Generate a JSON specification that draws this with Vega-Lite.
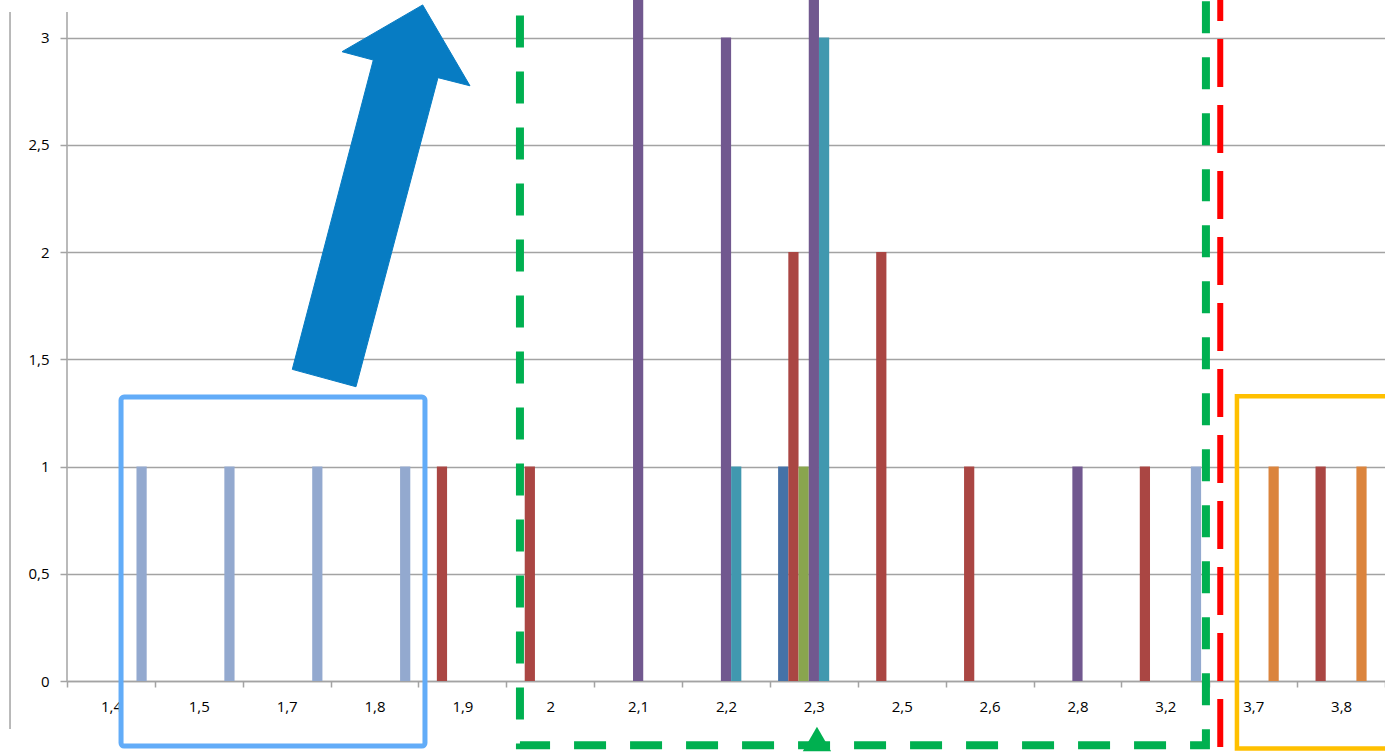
{
  "$schema": "https://vega.github.io/schema/vega-lite/v6.json",
  "width": 1318,
  "height": 681,
  "autosize": "none",
  "padding": {"left": 67, "top": 0, "right": 0, "bottom": 71},
  "background": "white",
  "config": {
    "view": {"stroke": null},
    "axis": {"labelFont": "Open Sans", "labelFontSize": 15, "labelColor": "#000000"}
  },
  "datasets": {
    "bars": [
      {"cat": "1,4", "s": "s7", "v": 1},
      {"cat": "1,5", "s": "s7", "v": 1},
      {"cat": "1,7", "s": "s7", "v": 1},
      {"cat": "1,8", "s": "s7", "v": 1},
      {"cat": "1,9", "s": "s2", "v": 1},
      {"cat": "2", "s": "s2", "v": 1},
      {"cat": "2,1", "s": "s4", "v": 4},
      {"cat": "2,2", "s": "s4", "v": 3},
      {"cat": "2,2", "s": "s5", "v": 1},
      {"cat": "2,3", "s": "s1", "v": 1},
      {"cat": "2,3", "s": "s2", "v": 2},
      {"cat": "2,3", "s": "s3", "v": 1},
      {"cat": "2,3", "s": "s4", "v": 4},
      {"cat": "2,3", "s": "s5", "v": 3},
      {"cat": "2,5", "s": "s2", "v": 2},
      {"cat": "2,6", "s": "s2", "v": 1},
      {"cat": "2,8", "s": "s4", "v": 1},
      {"cat": "3,2", "s": "s2", "v": 1},
      {"cat": "3,2", "s": "s7", "v": 1},
      {"cat": "3,7", "s": "s6", "v": 1},
      {"cat": "3,8", "s": "s2", "v": 1},
      {"cat": "3,8", "s": "s6", "v": 1}
    ],
    "frame": [
      {"x": 0, "y": 3.119, "y2": 0},
      {"x": -0.6485, "y": 3.119, "y2": -0.224}
    ],
    "blueBox": [{"x": 0.615, "x2": 4.074, "y": 1.324, "y2": -0.303}],
    "greenBox": [{"x": 5.155, "x2": 12.962, "y": 3.3, "y2": -0.3}],
    "orangeBox": [{"x": 13.315, "x2": 16, "y": 1.327, "y2": -0.315}],
    "redLine": [{"x": 13.125, "y": -0.3078, "y2": 3.3}],
    "tri": [{"x": 8.535, "y": -0.27}],
    "arrow": [
      {"i": 1, "x": 2.564, "y": 1.453},
      {"i": 2, "x": 3.289, "y": 1.372},
      {"i": 3, "x": 4.222, "y": 2.813},
      {"i": 4, "x": 4.586, "y": 2.775},
      {"i": 5, "x": 4.048, "y": 3.152},
      {"i": 6, "x": 3.130, "y": 2.934},
      {"i": 7, "x": 3.486, "y": 2.895},
      {"i": 8, "x": 2.564, "y": 1.453}
    ]
  },
  "layer": [
    {
      "data": {"name": "bars"},
      "mark": {"type": "bar", "clip": true},
      "encoding": {
        "x": {
          "field": "cat", "type": "nominal", "sort": null,
          "scale": {"type": "band", "domain": ["1,4","1,5","1,7","1,8","1,9","2","2,1","2,2","2,3","2,5","2,6","2,8","3,2","3,7","3,8"], "paddingInner": 0, "paddingOuter": 0},
          "axis": {"title": null, "labelAngle": 0, "labelPadding": 12, "tickBand": "extent", "tickSize": 6, "tickColor": "#A3A3A3", "tickWidth": 1.5, "domainColor": "#A3A3A3", "domainWidth": 1.5, "grid": false}
        },
        "xOffset": {
          "field": "s", "type": "nominal",
          "scale": {"domain": ["s1","s2","s3","s4","s5","s6","s7"], "paddingInner": 0, "paddingOuter": 0.8}
        },
        "y": {
          "field": "v", "type": "quantitative", "title": null,
          "scale": {"domain": [0, 3.175], "nice": false, "zero": true},
          "axis": {"title": null, "values": [0, 0.5, 1, 1.5, 2, 2.5, 3], "labelExpr": "replace(toString(datum.value), '.', ',')", "labelPadding": 11, "tickSize": 7, "tickColor": "#A3A3A3", "tickWidth": 1.5, "grid": true, "gridColor": "#A3A3A3", "gridWidth": 1.5, "domain": false}
        },
        "color": {
          "field": "s", "type": "nominal",
          "scale": {"domain": ["s1","s2","s3","s4","s5","s6","s7"], "range": ["#4572A7","#AA4643","#89A54E","#71588F","#4198AF","#DB843D","#93A9CF"]},
          "legend": null
        }
      }
    },
    {
      "layer": [
        {
          "data": {"name": "frame"},
          "mark": {"type": "rule", "color": "#A3A3A3", "strokeWidth": 1.5},
          "encoding": {
            "x": {"field": "x", "type": "quantitative", "scale": {"domain": [0, 15], "nice": false, "zero": false}, "axis": null},
            "y": {"field": "y", "type": "quantitative", "title": null, "scale": {"domain": [0, 3.175], "nice": false}},
            "y2": {"field": "y2"}
          }
        },
        {
          "data": {"name": "arrow"},
          "mark": {"type": "line", "fill": "#077CC3", "stroke": "#077CC3", "strokeWidth": 1, "interpolate": "linear"},
          "encoding": {
            "x": {"field": "x", "type": "quantitative", "scale": {"domain": [0, 15], "nice": false, "zero": false}, "axis": null},
            "y": {"field": "y", "type": "quantitative", "title": null, "scale": {"domain": [0, 3.175], "nice": false}},
            "order": {"field": "i", "type": "quantitative"}
          }
        },
        {
          "data": {"name": "blueBox"},
          "mark": {"type": "rect", "filled": false, "color": "#62ACF8", "strokeWidth": 5, "cornerRadius": 3},
          "encoding": {
            "x": {"field": "x", "type": "quantitative", "scale": {"domain": [0, 15], "nice": false, "zero": false}, "axis": null},
            "x2": {"field": "x2"},
            "y": {"field": "y", "type": "quantitative", "title": null, "scale": {"domain": [0, 3.175], "nice": false}},
            "y2": {"field": "y2"}
          }
        },
        {
          "data": {"name": "greenBox"},
          "mark": {"type": "rect", "filled": false, "color": "#00B050", "strokeWidth": 8, "strokeDash": [32, 24], "strokeDashOffset": 14},
          "encoding": {
            "x": {"field": "x", "type": "quantitative", "scale": {"domain": [0, 15], "nice": false, "zero": false}, "axis": null},
            "x2": {"field": "x2"},
            "y": {"field": "y", "type": "quantitative", "title": null, "scale": {"domain": [0, 3.175], "nice": false}},
            "y2": {"field": "y2"}
          }
        },
        {
          "data": {"name": "redLine"},
          "mark": {"type": "rule", "color": "#FF0000", "strokeWidth": 6, "strokeDash": [48, 18], "strokeCap": "butt"},
          "encoding": {
            "x": {"field": "x", "type": "quantitative", "scale": {"domain": [0, 15], "nice": false, "zero": false}, "axis": null},
            "y": {"field": "y", "type": "quantitative", "title": null, "scale": {"domain": [0, 3.175], "nice": false}},
            "y2": {"field": "y2"}
          }
        },
        {
          "data": {"name": "orangeBox"},
          "mark": {"type": "rect", "filled": false, "color": "#FFC000", "strokeWidth": 4.5},
          "encoding": {
            "x": {"field": "x", "type": "quantitative", "scale": {"domain": [0, 15], "nice": false, "zero": false}, "axis": null},
            "x2": {"field": "x2"},
            "y": {"field": "y", "type": "quantitative", "title": null, "scale": {"domain": [0, 3.175], "nice": false}},
            "y2": {"field": "y2"}
          }
        },
        {
          "data": {"name": "tri"},
          "mark": {"type": "point", "shape": "triangle-up", "filled": true, "color": "#00B050", "opacity": 1, "size": 800},
          "encoding": {
            "x": {"field": "x", "type": "quantitative", "scale": {"domain": [0, 15], "nice": false, "zero": false}, "axis": null},
            "y": {"field": "y", "type": "quantitative", "title": null, "scale": {"domain": [0, 3.175], "nice": false}}
          }
        }
      ]
    }
  ],
  "resolve": {"scale": {"x": "independent"}}
}
